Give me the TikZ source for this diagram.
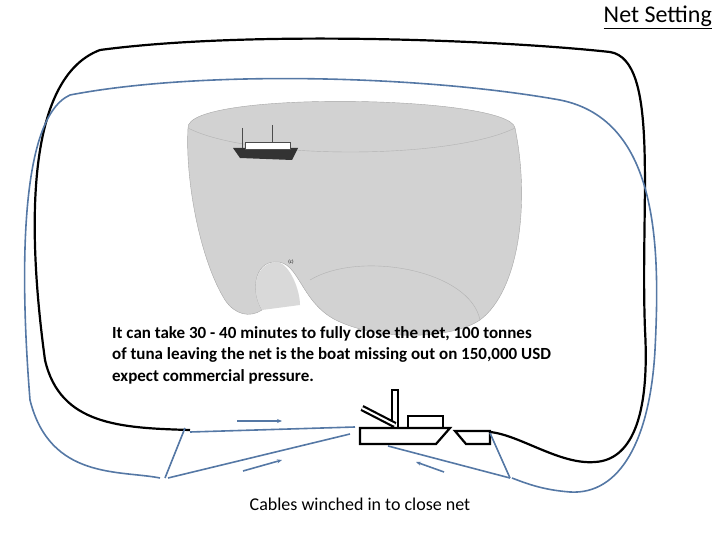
\documentclass[tikz,border=0pt]{standalone}
\usepackage{fontspec}
\setmainfont{Carlito}
\usetikzlibrary{arrows.meta}
\definecolor{bl}{RGB}{79,129,189}
\definecolor{bl2}{RGB}{85,120,165}
\begin{document}
\begin{tikzpicture}[x=1pt,y=-1pt,
  cable/.style={bl2,line width=1.6pt},
  arr/.style={bl2,line width=1.6pt,-{Stealth[length=5pt,width=4pt]}},
  boatline/.style={black,line width=2.2pt,line join=miter}]
\useasboundingbox (0,0) rectangle (720,540);
% net picture (approximation)
\fill[gray!35,draw=gray!70] (188,128) .. controls (185,90) and (510,95) .. (515,128)
  .. controls (530,200) and (520,290) .. (480,320)
  .. controls (450,340) and (380,340) .. (340,322)
  .. controls (300,305) and (300,260) .. (275,262)
  .. controls (255,262) and (250,290) .. (262,310)
  .. controls (250,318) and (235,315) .. (225,300)
  .. controls (200,260) and (185,180) .. (188,128) -- cycle;
\draw[gray!60] (188,128) .. controls (250,160) and (450,160) .. (515,128);
\fill[white!70!gray] (278,262) .. controls (290,265) and (300,290) .. (300,305) -- (262,310) .. controls (250,290) and (255,262) .. (278,262);
\draw[gray!60] (310,280) .. controls (360,250) and (470,270) .. (480,320);
\node[inner sep=0pt] (netlabel) at (291,262) {\tiny (c)};
% small boat in net
\fill[black!80] (233,148) -- (298,148) -- (292,160) -- (240,158) -- cycle;
\fill[white,draw=black!70] (245,142) rectangle (290,149);
\draw[black!70] (242,128) -- (242,148) (272,125) -- (272,142);
% black outer line
\node[inner sep=0pt] (bl) at (190,430) {};
\node[inner sep=0pt] (br) at (490,432) {};
\draw[black,line width=2.2pt] (bl.center) .. controls (120,428) and (60,425) .. (45,360)
  .. controls (30,250) and (20,80) .. (100,50)
  .. controls (250,30) and (500,40) .. (610,52)
  .. controls (660,60) and (640,200) .. (645,330)
  .. controls (650,420) and (630,460) .. (595,462)
  .. controls (560,465) and (520,435) .. (br.center);
% blue outer line
\draw[cable] (160,478) .. controls (120,470) and (50,480) .. (30,400)
  .. controls (22,300) and (15,120) .. (70,95)
  .. controls (200,70) and (420,75) .. (560,100)
  .. controls (660,120) and (660,250) .. (655,350)
  .. controls (650,440) and (620,495) .. (570,492)
  .. controls (545,490) and (530,485) .. (512,478);
% boat
\coordinate (h1) at (360,428);
\draw[boatline] (h1) -- (450,428) -- (436,444) -- (360,444) -- cycle;
\draw[boatline] (408,428) rectangle (443,416);
\draw[boatline] (392,428) -- (392,390) -- (398,390) -- (398,428);
\draw[black,line width=2.2pt,double=white,double distance=2pt] (362,408) -- (395,425);
\draw[boatline] (455,431) -- (490,431) -- (490,444) -- (466,444) -- cycle;
% cables
\draw[cable] (190,432) -- (355,427);
\draw[cable] (165,478) -- (185,428);
\draw[cable] (168,478) -- (350,434);
\draw[cable] (510,478) -- (490,433);
\draw[cable] (510,478) -- (388,446);
\draw[arr] (237,421) -- (282,421);
\draw[arr] (243,471) -- (282,460);
\draw[arr] (444,472) -- (416,462);
% texts
\node[anchor=north east,inner sep=0pt,font=\fontsize{24}{28}\selectfont] (title) at (712,6) {\underline{Net Setting}};
\node[anchor=north west,align=left,inner sep=0pt,font=\bfseries\fontsize{17}{21.5}\selectfont] (txt) at (112,326)
  {It can take 30 - 40 minutes to fully close the net, 100 tonnes\\of tuna leaving the net is the boat missing out on 150,000 USD\\expect commercial pressure.};
\node[font=\fontsize{18}{20}\selectfont] (cap) at (360,504) {Cables winched in to close net};
\end{tikzpicture}
\end{document}
